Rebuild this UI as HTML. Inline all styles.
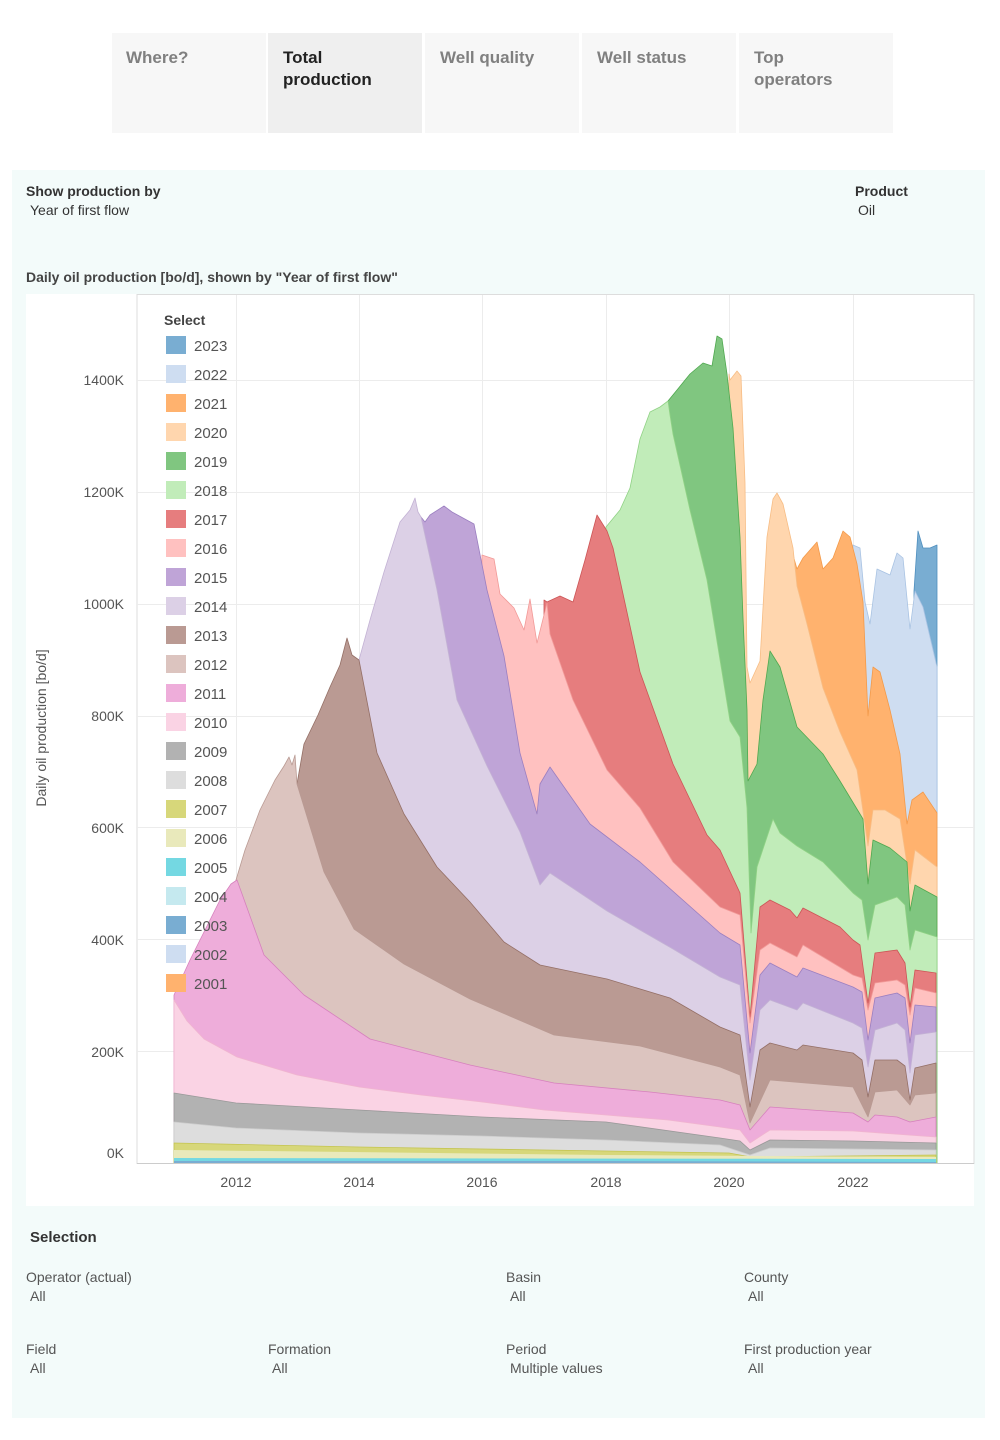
<!DOCTYPE html>
<html><head><meta charset="utf-8"><style>
body{margin:0;background:#fff;width:1000px;height:1435px;overflow:hidden;font-family:"Liberation Sans",sans-serif;}
</style></head><body>
<svg width="1000" height="1435" xmlns="http://www.w3.org/2000/svg" font-family="Liberation Sans, sans-serif">
<rect x="112" y="33" width="154" height="100" fill="#f7f7f7"/>
<rect x="268" y="33" width="154" height="100" fill="#efefef"/>
<rect x="425" y="33" width="154" height="100" fill="#f7f7f7"/>
<rect x="582" y="33" width="154" height="100" fill="#f7f7f7"/>
<rect x="739" y="33" width="154" height="100" fill="#f7f7f7"/>
<g font-size="17" font-weight="bold" fill="#808080">
<text x="126" y="63">Where?</text>
<text x="283" y="63" fill="#222">Total</text><text x="283" y="85" fill="#222">production</text>
<text x="440" y="63">Well quality</text>
<text x="597" y="63">Well status</text>
<text x="754" y="63">Top</text><text x="754" y="85">operators</text>
</g>
<rect x="12" y="170" width="973" height="1248" fill="#f3fbfa"/>
<g font-size="14" fill="#333">
<text x="26" y="196" font-weight="bold">Show production by</text>
<text x="30" y="215">Year of first flow</text>
<text x="855" y="196" font-weight="bold">Product</text>
<text x="858" y="215">Oil</text>
<text x="26" y="282" font-weight="bold" fill="#444">Daily oil production [bo/d], shown by "Year of first flow"</text>
</g>
<rect x="26" y="294" width="948" height="912" fill="#fff"/>
<rect x="137" y="294.5" width="837" height="869" fill="none" stroke="#ddd"/>
<g stroke="#ececec" stroke-width="1">
<line x1="137" x2="974" y1="1051.5" y2="1051.5"/><line x1="137" x2="974" y1="939.5" y2="939.5"/>
<line x1="137" x2="974" y1="827.5" y2="827.5"/><line x1="137" x2="974" y1="716.5" y2="716.5"/>
<line x1="137" x2="974" y1="604.5" y2="604.5"/><line x1="137" x2="974" y1="492.5" y2="492.5"/>
<line x1="137" x2="974" y1="380.5" y2="380.5"/>
<line x1="236.5" x2="236.5" y1="295" y2="1163"/><line x1="359.5" x2="359.5" y1="295" y2="1163"/>
<line x1="482.5" x2="482.5" y1="295" y2="1163"/><line x1="606.5" x2="606.5" y1="295" y2="1163"/>
<line x1="729.5" x2="729.5" y1="295" y2="1163"/><line x1="853.5" x2="853.5" y1="295" y2="1163"/>
</g>
<g stroke-width="0.8" stroke-linejoin="round">
<polygon fill="#79add2" stroke="#4f8fbf" points="914,591 918,531 923,548 930,548 937,545 937,1163 914,1163"/>
<polygon fill="#ceddf1" stroke="#a9c3e3" points="853,545 860,548 865,602 870,624 877,569 890,575 897,553 903,558 910,629 915,591 923,607 937,667 937,1163 853,1163"/>
<polygon fill="#ffb26e" stroke="#f39a4a" points="791,548 797,569 803,558 817,542 823,569 833,558 843,531 850,537 857,564 863,602 868,716 873,667 880,672 890,710 900,754 907,824 912,800 923,792 937,813 937,1163 791,1163"/>
<polygon fill="#ffd6ae" stroke="#f7bd85" points="729,374 730,380 737,371 741,376 745,483 747,667 750,683 760,661 767,537 773,499 777,493 783,504 793,548 797,586 807,624 823,688 840,732 857,770 868,846 873,810 885,810 900,819 910,884 915,850 937,867 937,1163 729,1163"/>
<polygon fill="#80c680" stroke="#4fa84f" points="668,401 677,390 690,374 703,363 712,366 717,336 722,339 727,374 733,428 740,537 743,618 747,710 748,781 757,764 763,700 770,651 780,667 797,727 823,754 840,781 863,819 868,884 873,840 890,848 907,862 910,911 915,885 937,897 937,1163 668,1163"/>
<polygon fill="#c1ecb9" stroke="#90d285" points="606,527 620,510 630,488 640,439 650,412 660,407 668,401 670,415 673,434 690,510 707,580 730,721 740,737 747,808 751,933 757,867 773,819 780,833 797,846 823,862 853,893 862,900 868,940 875,905 897,897 905,905 910,950 915,930 937,937 937,1163 606,1163"/>
<polygon fill="#e67d7e" stroke="#cc5556" points="544,600 547,602 560,596 573,602 585,560 597,515 607,531 613,548 640,672 673,764 707,835 720,850 740,893 750,1017 760,907 770,900 790,910 797,918 803,908 840,927 853,940 860,945 868,1003 875,953 897,950 905,963 910,1007 915,970 936,973 936,1163 544,1163"/>
<polygon fill="#ffc1c0" stroke="#f19a98" points="482,555 494,559 500,594 514,608 524,630 530,599 537,643 547,603 550,634 573,700 607,770 640,808 673,862 720,907 740,915 750,1023 760,950 770,943 797,957 803,945 853,975 862,978 868,1010 875,983 897,980 905,985 910,1015 915,988 936,993 936,1163 482,1163"/>
<polygon fill="#bfa4d7" stroke="#9b7fc0" points="421,517 425,522 430,515 444,506 452,512 474,524 487,590 504,656 520,753 537,814 540,784 550,767 590,824 640,862 720,933 740,945 750,1053 760,975 770,963 797,977 803,968 853,987 862,992 868,1040 875,998 897,993 905,998 910,1043 915,1005 936,1007 936,1163 421,1163"/>
<polygon fill="#dcd0e6" stroke="#c3b2d4" points="359,660 370,620 384,572 400,522 410,510 415,498 418,512 421,517 437,590 457,700 487,766 520,832 540,885 550,873 607,911 673,949 720,977 740,985 750,1080 760,1010 770,1000 797,1010 803,1003 853,1023 862,1028 868,1067 875,1030 897,1023 905,1030 910,1073 915,1035 936,1032 936,1163 359,1163"/>
<polygon fill="#ba9a93" stroke="#946f66" points="297,784 304,744 318,715 330,687 340,665 347,638 352,655 359,660 377,753 404,814 437,867 470,902 504,942 540,965 607,979 670,998 720,1027 740,1035 750,1107 760,1050 770,1043 797,1050 803,1045 853,1053 862,1060 868,1097 875,1060 897,1060 905,1066 910,1100 915,1068 936,1063 936,1163 297,1163"/>
<polygon fill="#dcc4bf" stroke="#b99a93" points="236,880 245,850 260,810 275,780 284,766 289,757 292,765 295,755 297,784 324,872 354,929 404,964 470,999 554,1035 640,1046 720,1067 740,1075 750,1123 770,1080 853,1087 868,1117 875,1092 897,1090 910,1105 915,1095 936,1093 936,1163 236,1163"/>
<polygon fill="#eeadda" stroke="#d680bd" points="174,995 190,960 205,930 220,900 231,884 237,880 264,955 304,995 370,1039 470,1065 554,1083 650,1092 720,1100 740,1105 750,1130 770,1107 853,1113 868,1122 875,1115 897,1117 910,1122 936,1117 936,1163 174,1163"/>
<polygon fill="#fad3e4" stroke="#f0b4cf" points="174,1000 187,1021 204,1039 237,1057 297,1075 359,1087 421,1095 482,1102 544,1110 606,1115 668,1120 720,1127 740,1130 750,1143 770,1130 853,1131 936,1137 936,1163 174,1163"/>
<polygon fill="#b2b2b2" stroke="#999" points="174,1093 236,1103 359,1110 482,1117 606,1122 720,1138 740,1141 750,1150 770,1140 853,1141 936,1143 936,1163 174,1163"/>
<polygon fill="#dddddd" stroke="#ccc" points="174,1122 236,1128 359,1133 482,1136 606,1140 720,1145 750,1155 770,1148 936,1150 936,1163 174,1163"/>
<polygon fill="#d7d77a" stroke="#c4c450" points="174,1143 359,1147 606,1151 729,1153 751,1157 936,1155 936,1163 174,1163"/>
<polygon fill="#e9e9bb" stroke="none" points="174,1150 606,1155 936,1157 936,1163 174,1163"/>
<polygon fill="#74d8e2" stroke="none" points="174,1158 936,1159 936,1163 174,1163"/>
<polygon fill="#79add2" stroke="none" points="174,1161 600,1161 936,1162 936,1163 174,1163"/>
</g>
<line x1="137" x2="974" y1="1163.5" y2="1163.5" stroke="#ccc"/>
<g font-size="14" fill="#555" text-anchor="end">
<text x="124" y="1158">0K</text><text x="124" y="1057">200K</text><text x="124" y="945">400K</text>
<text x="124" y="833">600K</text><text x="124" y="721">800K</text><text x="124" y="609">1000K</text>
<text x="124" y="497">1200K</text><text x="124" y="385">1400K</text>
</g>
<text transform="translate(46,728) rotate(-90)" font-size="14" fill="#555" text-anchor="middle">Daily oil production [bo/d]</text>
<g font-size="14" fill="#555" text-anchor="middle">
<text x="236" y="1187">2012</text><text x="359" y="1187">2014</text><text x="482" y="1187">2016</text>
<text x="606" y="1187">2018</text><text x="729" y="1187">2020</text><text x="853" y="1187">2022</text>
</g>
<text x="164" y="325" font-size="14" font-weight="bold" fill="#444">Select</text>
<g font-size="15" fill="#555">
<rect x="166" y="336" width="20" height="18" fill="#79add2"/><text x="194" y="351">2023</text>
<rect x="166" y="365" width="20" height="18" fill="#ceddf1"/><text x="194" y="380">2022</text>
<rect x="166" y="394" width="20" height="18" fill="#ffb26e"/><text x="194" y="409">2021</text>
<rect x="166" y="423" width="20" height="18" fill="#ffd6ae"/><text x="194" y="438">2020</text>
<rect x="166" y="452" width="20" height="18" fill="#80c680"/><text x="194" y="467">2019</text>
<rect x="166" y="481" width="20" height="18" fill="#c1ecb9"/><text x="194" y="496">2018</text>
<rect x="166" y="510" width="20" height="18" fill="#e67d7e"/><text x="194" y="525">2017</text>
<rect x="166" y="539" width="20" height="18" fill="#ffc1c0"/><text x="194" y="554">2016</text>
<rect x="166" y="568" width="20" height="18" fill="#bfa4d7"/><text x="194" y="583">2015</text>
<rect x="166" y="597" width="20" height="18" fill="#dcd0e6"/><text x="194" y="612">2014</text>
<rect x="166" y="626" width="20" height="18" fill="#ba9a93"/><text x="194" y="641">2013</text>
<rect x="166" y="655" width="20" height="18" fill="#dcc4bf"/><text x="194" y="670">2012</text>
<rect x="166" y="684" width="20" height="18" fill="#eeadda"/><text x="194" y="699">2011</text>
<rect x="166" y="713" width="20" height="18" fill="#fad3e4"/><text x="194" y="728">2010</text>
<rect x="166" y="742" width="20" height="18" fill="#b2b2b2"/><text x="194" y="757">2009</text>
<rect x="166" y="771" width="20" height="18" fill="#dddddd"/><text x="194" y="786">2008</text>
<rect x="166" y="800" width="20" height="18" fill="#d7d77a"/><text x="194" y="815">2007</text>
<rect x="166" y="829" width="20" height="18" fill="#e9e9bb"/><text x="194" y="844">2006</text>
<rect x="166" y="858" width="20" height="18" fill="#74d8e2"/><text x="194" y="873">2005</text>
<rect x="166" y="887" width="20" height="18" fill="#c5e9ef"/><text x="194" y="902">2004</text>
<rect x="166" y="916" width="20" height="18" fill="#79add2"/><text x="194" y="931">2003</text>
<rect x="166" y="945" width="20" height="18" fill="#ceddf1"/><text x="194" y="960">2002</text>
<rect x="166" y="974" width="20" height="18" fill="#ffb26e"/><text x="194" y="989">2001</text>
</g>
<g font-size="14" fill="#555">
<text x="30" y="1242" font-weight="bold" fill="#333" font-size="15">Selection</text>
<text x="26" y="1282">Operator (actual)</text><text x="30" y="1301">All</text>
<text x="506" y="1282">Basin</text><text x="510" y="1301">All</text>
<text x="744" y="1282">County</text><text x="748" y="1301">All</text>
<text x="26" y="1354">Field</text><text x="30" y="1373">All</text>
<text x="268" y="1354">Formation</text><text x="272" y="1373">All</text>
<text x="506" y="1354">Period</text><text x="510" y="1373">Multiple values</text>
<text x="744" y="1354">First production year</text><text x="748" y="1373">All</text>
</g>
</svg>
</body></html>
